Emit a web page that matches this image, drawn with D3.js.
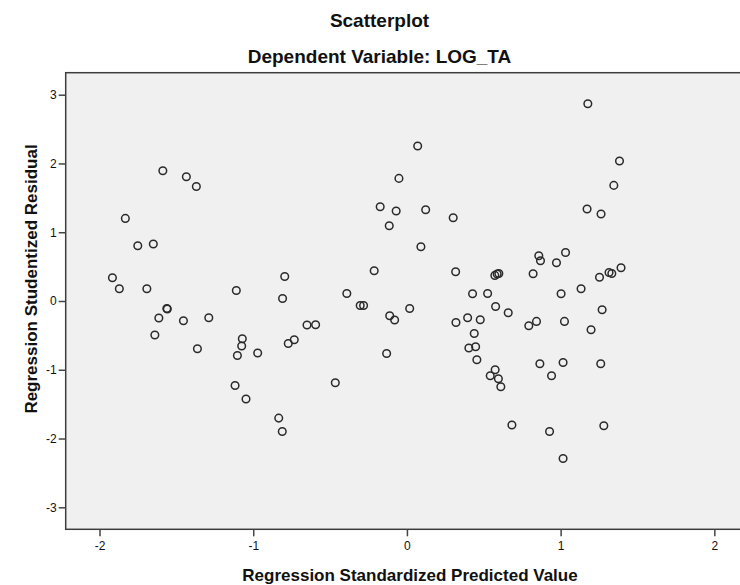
<!DOCTYPE html>
<html>
<head>
<meta charset="utf-8">
<script src="https://cdn.jsdelivr.net/npm/d3@7"></script>
<style>
  body { margin: 0; background: #fff; }
  text { font-family: "Liberation Sans", Arial, sans-serif; fill: #111; }
  .tick text { font-size: 12px; }
  .tick line { stroke: #444; stroke-width: 1.5px; }
  .title { font-weight: bold; font-size: 19px; }
  .axislabel { font-weight: bold; font-size: 17px; }
</style>
</head>
<body>
<div id="chart"></div>
<script>
const w = 740, h = 585

// data: regression standardized predicted value (x) / studentized residual (y)
const predicted = [-1.588, -1.435, -1.370, -1.832, -1.751, -1.650, -1.916, -1.871, -1.692, -1.110,
    -1.562, -1.559, -1.614, -1.454, -1.289, -1.640, -1.363, -1.071, -1.075, -1.103,
    -0.971, -1.118, -1.047, 0.070, -0.052, -0.174, -0.070, 0.122, 0.301, -0.115,
    0.091, -0.213, 0.317, -0.795, -0.809, -0.391, 0.427, 0.525, -0.304, -0.282,
    -0.112, -0.080, 0.018, 0.577, 0.319, 0.395, 0.477, 0.438, 0.403, 0.447,
    0.455, 0.574, 0.542, 0.595, 0.611, -0.650, -0.594, -0.772, -0.733, -0.132,
    -0.466, -0.834, -0.811, 1.177, 1.383, 1.346, 1.172, 1.263, 0.858, 0.869,
    1.032, 0.973, 0.821, 0.572, 0.587, 0.598, 1.315, 1.333, 1.393, 1.253,
    1.003, 1.133, 0.659, 0.793, 0.843, 1.025, 1.270, 1.198, 0.865, 1.016,
    0.941, 1.261, 0.683, 0.928, 1.281, 1.016]

const residual = [1.895, 1.807, 1.666, 1.201, 0.804, 0.828, 0.338, 0.178, 0.178, 0.153,
    -0.108, -0.117, -0.248, -0.287, -0.244, -0.495, -0.695, -0.549, -0.655, -0.792,
    -0.757, -1.228, -1.426, 2.254, 1.783, 1.371, 1.308, 1.327, 1.211, 1.095,
    0.789, 0.440, 0.425, 0.357, 0.036, 0.110, 0.105, 0.110, -0.065, -0.065,
    -0.215, -0.277, -0.108, -0.079, -0.312, -0.244, -0.273, -0.472, -0.684, -0.665,
    -0.855, -1.000, -1.087, -1.131, -1.247, -0.350, -0.345, -0.617, -0.564, -0.763,
    -1.189, -1.703, -1.897, 2.869, 2.036, 1.681, 1.337, 1.265, 0.658, 0.585,
    0.706, 0.556, 0.396, 0.372, 0.392, 0.401, 0.415, 0.401, 0.484, 0.345,
    0.105, 0.178, -0.171, -0.360, -0.297, -0.297, -0.127, -0.418, -0.913, -0.894,
    -1.087, -0.913, -1.804, -1.897, -1.815, -2.290]

const xTicks = [-2, -1, 0, 1, 2]
const yTicks = [-3, -2, -1, 0, 1, 2, 3]

const chartTitle = "Scatterplot"
const subTitle = "Dependent Variable: LOG_TA"
const xTitle = "Regression Standardized Predicted Value"
const yTitle = "Regression Studentized Residual"

const plot = { left: 65.7, top: 72.7, right: 742, bottom: 529.3 }

//scales
const xscale = d3.scaleLinear()
    .domain([-2.22, 2.18])
    .range([plot.left, plot.right])

const yscale = d3.scaleLinear()
    .domain([-3.32, 3.32])
    .range([plot.bottom, plot.top])

const svg = d3.select("#chart").append("svg")
    .attr("width", w)
    .attr("height", h)

// plot background + frame
svg.append("rect")
    .attr("x", plot.left)
    .attr("y", plot.top)
    .attr("width", plot.right - plot.left)
    .attr("height", plot.bottom - plot.top)
    .attr("fill", "#f0f0f0")
    .attr("stroke", "#3c3c3c")
    .attr("stroke-width", 1.5)

// axes
const xAxis = svg.append("g")
    .attr("transform", "translate(0," + plot.bottom + ")")
    .call(d3.axisBottom(xscale).tickValues(xTicks).tickSize(7).tickPadding(5).tickFormat(d3.format("d")))
xAxis.select(".domain").remove()

const yAxis = svg.append("g")
    .attr("transform", "translate(" + plot.left + ",0)")
    .call(d3.axisLeft(yscale).tickValues(yTicks).tickSize(7).tickPadding(2).tickFormat(d3.format("d")))
yAxis.select(".domain").remove()

svg.selectAll(".tick text").attr("fill", "#111").text(d => d < 0 ? "-" + Math.abs(d) : d)

// points
svg.selectAll("circle.pt")
    .data(predicted.map((d, i) => [d, residual[i]]))
    .enter()
    .append("circle")
    .attr("class", "pt")
    .attr("cx", d => xscale(d[0]))
    .attr("cy", d => yscale(d[1]))
    .attr("r", 3.8)
    .attr("fill", "none")
    .attr("stroke", "#2a2a2a")
    .attr("stroke-width", 1.5)

// titles
svg.append("text")
    .attr("class", "title")
    .attr("x", 379.5)
    .attr("y", 27)
    .attr("text-anchor", "middle")
    .text(chartTitle)

svg.append("text")
    .attr("class", "title")
    .attr("x", 379.5)
    .attr("y", 63)
    .attr("text-anchor", "middle")
    .text(subTitle)

svg.append("text")
    .attr("class", "axislabel")
    .attr("x", 410)
    .attr("y", 581)
    .attr("text-anchor", "middle")
    .text(xTitle)

svg.append("text")
    .attr("class", "axislabel")
    .attr("transform", "translate(37,279) rotate(-90)")
    .attr("text-anchor", "middle")
    .text(yTitle)
</script>
</body>
</html>
